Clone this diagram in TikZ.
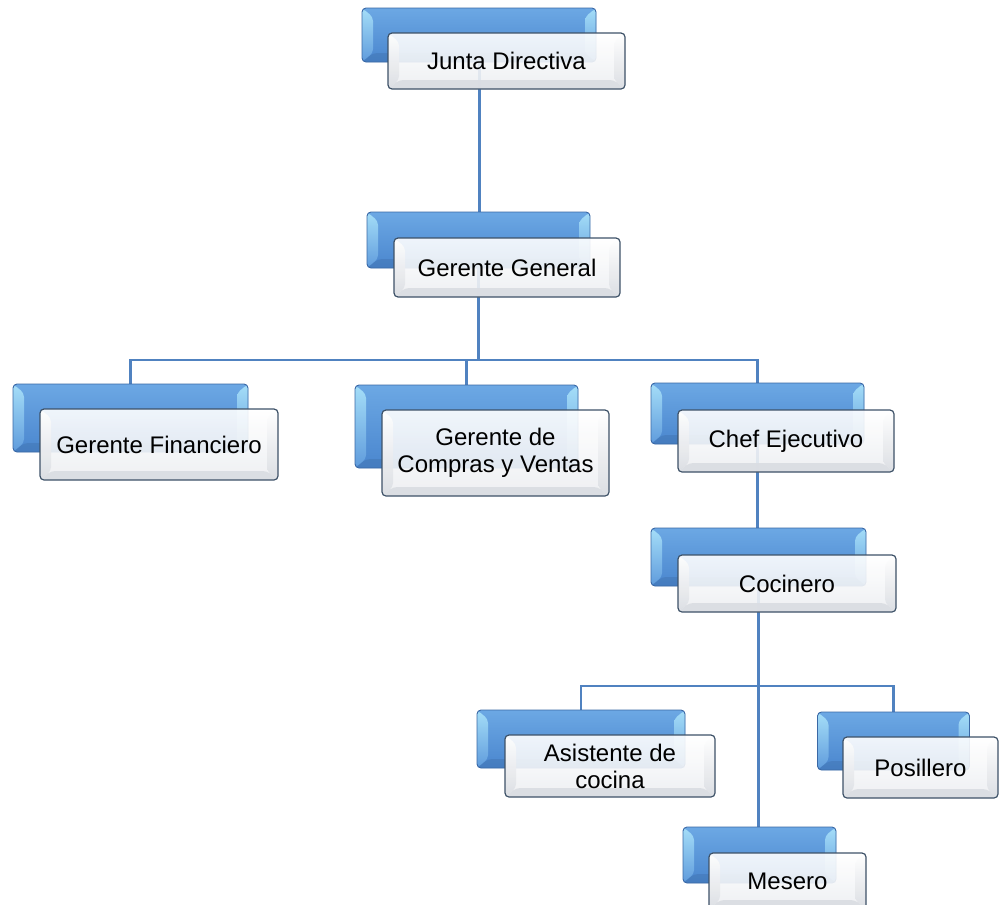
\documentclass[tikz,border=0pt]{standalone}
\usepackage{fontspec}
\setmainfont{Liberation Sans}
\usetikzlibrary{calc}
\pgfdeclarelayer{bg}
\pgfsetlayers{bg,main}
\definecolor{bluetop}{RGB}{108,168,228}
\definecolor{bluebot}{RGB}{74,134,206}
\definecolor{blueedge}{RGB}{58,104,165}
\definecolor{bevellight}{RGB}{165,222,248}
\definecolor{bevelmid}{RGB}{95,155,220}
\definecolor{wtop}{RGB}{255,255,255}
\definecolor{wbot}{RGB}{236,238,241}
\definecolor{wedge}{RGB}{62,82,104}
\definecolor{wbevel}{RGB}{218,221,226}
\definecolor{connc}{RGB}{80,130,192}
\tikzset{
  bluebox/.style={rounded corners=4pt, draw=blueedge, line width=0.9pt,
    top color=bluetop, bottom color=bluebot, inner sep=0pt,
    path picture={
      \shade[top color=bevellight, bottom color=bevelmid]
        (path picture bounding box.north west) --
        ([shift={(11pt,-9pt)}]path picture bounding box.north west) --
        ([shift={(11pt,9pt)}]path picture bounding box.south west) --
        (path picture bounding box.south west) -- cycle;
      \shade[top color=bevellight, bottom color=bevelmid]
        (path picture bounding box.north east) --
        ([shift={(-11pt,-9pt)}]path picture bounding box.north east) --
        ([shift={(-11pt,9pt)}]path picture bounding box.south east) --
        (path picture bounding box.south east) -- cycle;
      \fill[bluebot!80!black, opacity=0.35]
        (path picture bounding box.south west) --
        ([shift={(11pt,9pt)}]path picture bounding box.south west) --
        ([shift={(-11pt,9pt)}]path picture bounding box.south east) --
        (path picture bounding box.south east) -- cycle;
    }},
  whitebox/.style={rounded corners=4pt, draw=wedge, line width=1.2pt,
    top color=wtop, bottom color=wbot, inner sep=0pt, align=center,
    font=\fontsize{24}{27}\selectfont, fill opacity=0.9, text opacity=1,
    path picture={
      \shade[top color=white, bottom color=wbevel]
        (path picture bounding box.north west) --
        ([shift={(11pt,-9pt)}]path picture bounding box.north west) --
        ([shift={(11pt,9pt)}]path picture bounding box.south west) --
        (path picture bounding box.south west) -- cycle;
      \shade[top color=white, bottom color=wbevel]
        (path picture bounding box.north east) --
        ([shift={(-11pt,-9pt)}]path picture bounding box.north east) --
        ([shift={(-11pt,9pt)}]path picture bounding box.south east) --
        (path picture bounding box.south east) -- cycle;
      \fill[wbevel]
        (path picture bounding box.south west) --
        ([shift={(11pt,9pt)}]path picture bounding box.south west) --
        ([shift={(-11pt,9pt)}]path picture bounding box.south east) --
        (path picture bounding box.south east) -- cycle;
    }},
  stem/.style={draw=connc, line width=3pt},
  busline/.style={draw=connc, line width=2.2pt}
}
\begin{document}
\begin{tikzpicture}[x=1pt,y=-1pt]
\useasboundingbox (0,0) rectangle (999,905);
\clip (0,0) rectangle (999,905);
% Junta Directiva
\node[bluebox, minimum width=234pt, minimum height=54pt] (jdb) at (479,35) {};
\node[whitebox, minimum width=237pt, minimum height=56pt] (jd) at (506.5,61) {Junta Directiva};
% Gerente General
\node[bluebox, minimum width=223pt, minimum height=56pt] (ggb) at (478.5,240) {};
\node[whitebox, minimum width=226pt, minimum height=59pt] (gg) at (507,267.5) {Gerente General};
% Gerente Financiero
\node[bluebox, minimum width=235pt, minimum height=68pt] (finb) at (130.5,418) {};
\node[whitebox, minimum width=238pt, minimum height=71pt] (fin) at (159,444.5) {Gerente Financiero};
% Compras y Ventas
\node[bluebox, minimum width=223pt, minimum height=83pt] (comb) at (466.5,426.5) {};
\node[whitebox, minimum width=227pt, minimum height=86pt] (com) at (495.5,453) {Gerente de\\Compras y Ventas};
% Chef Ejecutivo
\node[bluebox, minimum width=213pt, minimum height=61pt] (chefb) at (757.5,413.5) {};
\node[whitebox, minimum width=216pt, minimum height=62pt] (chef) at (786,441) {Chef Ejecutivo};
% Cocinero
\node[bluebox, minimum width=215pt, minimum height=58pt] (cocb) at (758.5,557) {};
\node[whitebox, minimum width=218pt, minimum height=57pt] (coc) at (787,583.5) {Cocinero};
% Asistente de cocina
\node[bluebox, minimum width=208pt, minimum height=58pt] (asib) at (581,739) {};
\node[whitebox, minimum width=210pt, minimum height=62pt] (asi) at (610,766) {Asistente de\\cocina};
% Posillero
\node[bluebox, minimum width=152pt, minimum height=58pt] (posb) at (893.5,741) {};
\node[whitebox, minimum width=155pt, minimum height=61pt] (pos) at (920.5,767.5) {Posillero};
% Mesero
\node[bluebox, minimum width=153pt, minimum height=56pt] (mesb) at (759.5,855) {};
\node[whitebox, minimum width=157pt, minimum height=56pt] (mes) at (787.5,881) {Mesero};
% connectors
\coordinate (bus1) at (478.5,360);
\coordinate (bus2) at (760,686);
\begin{pgfonlayer}{bg}
\draw[stem] (jdb.center) -- (jdb.center |- ggb.north);
\draw[stem] (ggb.center) -- (ggb.center |- bus1);
\draw[busline] (finb.north) -- (finb.north |- bus1) -- (chefb.north |- bus1) -- (chefb.north);
\draw[busline] (comb.north) -- (comb.north |- bus1);
\draw[stem] (chefb.center) -- (chefb.center |- cocb.north);
\draw[stem] (cocb.center) -- (cocb.center |- mesb.north);
\draw[busline] (asib.north) -- (asib.north |- bus2) -- (posb.north |- bus2) -- (posb.north);
\end{pgfonlayer}
\end{tikzpicture}
\end{document}
